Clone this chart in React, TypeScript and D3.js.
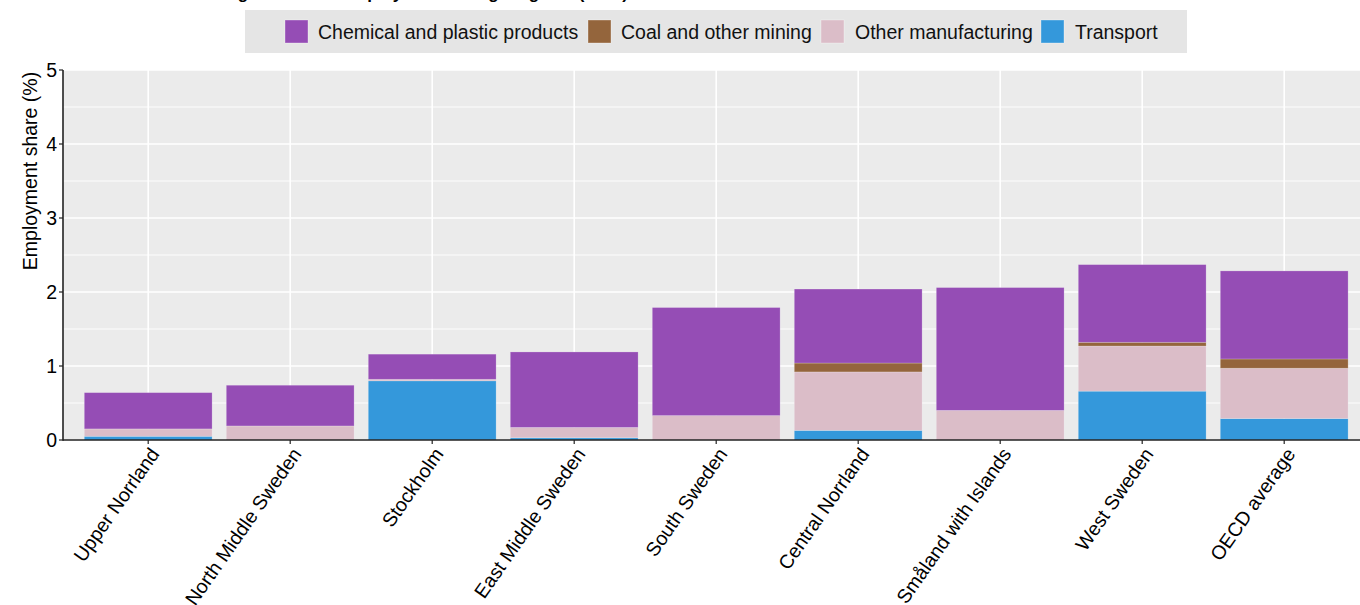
import React from "react";
import * as d3 from "d3";

const regions = [
  "Upper Norrland",
  "North Middle Sweden",
  "Stockholm",
  "East Middle Sweden",
  "South Sweden",
  "Central Norrland",
  "Småland with Islands",
  "West Sweden",
  "OECD average",
];
const transport = [0.05, 0.0, 0.8, 0.03, 0.0, 0.13, 0.0, 0.66, 0.29];
const otherManufacturing = [0.1, 0.19, 0.02, 0.14, 0.33, 0.79, 0.4, 0.61, 0.68];
const coalMining = [0.0, 0.0, 0.0, 0.0, 0.0, 0.12, 0.0, 0.05, 0.125];
const chemicalPlastic = [0.49, 0.55, 0.34, 1.02, 1.46, 1.0, 1.66, 1.05, 1.19];
const yTicks = [0, 1, 2, 3, 4, 5];

const seriesNames = ["Transport", "Other manufacturing", "Coal and other mining", "Chemical and plastic products"];
const seriesValues = [transport, otherManufacturing, coalMining, chemicalPlastic];
const seriesColors = ["#3498db", "#dbbdc8", "#94653c", "#954db5"];

const FONT = "'Liberation Sans', Arial, sans-serif";

export default function App() {
  const W = 1360, H = 605;
  const panelLeft = 63, panelTop = 70, panelBottom = 440;
  const step = 142;
  const panelRight = panelLeft + step * 9.2;

  const y = d3.scaleLinear().domain([0, 5]).range([panelBottom, panelTop]);
  const x = d3
    .scaleBand<string>()
    .domain(regions)
    .range([panelLeft + 0.1 * step, panelRight - 0.1 * step])
    .paddingInner(0.1)
    .paddingOuter(0.05);
  const cx = (r: string) => (x(r) as number) + x.bandwidth() / 2;
  const barW = x.bandwidth();

  const rows = regions.map((r, i) => {
    const o: any = { region: r };
    seriesNames.forEach((s, k) => (o[s] = seriesValues[k][i]));
    return o;
  });
  const stacked = d3.stack<any>().keys(seriesNames)(rows);

  const minor = d3.range(0.5, 5, 1);

  const legItems = [
    { k: 3, sx: 285, tx: 318 },
    { k: 2, sx: 588, tx: 621 },
    { k: 1, sx: 821, tx: 855 },
    { k: 0, sx: 1041, tx: 1075 },
  ];

  return (
    <svg width={W} height={H} style={{ position: "absolute", left: 0, top: 0, fontFamily: FONT }}>
      <rect x={0} y={0} width={W} height={H} fill="#ffffff" />
      <text x={150} y={-1} fontSize={17} fontWeight="bold" fill="#000">
        Share of high-emission employment in large regions (2019)
      </text>
      {/* legend */}
      <rect x={245} y={10} width={942} height={43} fill="#e5e5e5" />
      {legItems.map((it) => (
        <g key={it.k}>
          <rect x={it.sx} y={20} width={23} height={23} fill={seriesColors[it.k]} stroke="#ffffff" strokeOpacity={0.4} strokeWidth={0.8} />
          <text x={it.tx} y={39} fontSize={19.5} fill="#111">{seriesNames[it.k]}</text>
        </g>
      ))}
      {/* panel */}
      <clipPath id="pc"><rect x={panelLeft} y={panelTop} width={panelRight - panelLeft} height={panelBottom - panelTop} /></clipPath>
      <rect x={panelLeft} y={panelTop} width={panelRight - panelLeft} height={panelBottom - panelTop} fill="#ebebeb" />
      <g clipPath="url(#pc)">
        {minor.map((v) => (
          <line key={"m" + v} x1={panelLeft} x2={panelRight} y1={y(v)} y2={y(v)} stroke="#ffffff" strokeWidth={0.9} />
        ))}
        {yTicks.map((v) => (
          <line key={"M" + v} x1={panelLeft} x2={panelRight} y1={y(v)} y2={y(v)} stroke="#ffffff" strokeWidth={1.6} />
        ))}
        {regions.map((r) => (
          <line key={"v" + r} x1={cx(r)} x2={cx(r)} y1={panelTop} y2={panelBottom} stroke="#ffffff" strokeWidth={1.6} />
        ))}
        {stacked.map((layer, k) =>
          layer.map((d, i) => {
            const h = y(d[0]) - y(d[1]);
            if (h <= 0) return null;
            return (
              <rect
                key={k + "-" + i}
                x={cx(regions[i]) - barW / 2}
                y={y(d[1])}
                width={barW}
                height={h}
                fill={seriesColors[k]}
                stroke="#ffffff"
                strokeOpacity={0.25}
                strokeWidth={0.8}
              />
            );
          })
        )}
      </g>
      {/* axes */}
      <line x1={panelLeft} x2={panelLeft} y1={panelTop} y2={panelBottom + 0.8} stroke="#222" strokeWidth={1.6} />
      <line x1={panelLeft} x2={panelRight} y1={panelBottom} y2={panelBottom} stroke="#222" strokeWidth={1.6} />
      {yTicks.map((v) => (
        <g key={"t" + v}>
          <line x1={panelLeft - 4} x2={panelLeft} y1={y(v)} y2={y(v)} stroke="#222" strokeWidth={1.2} />
          <text x={panelLeft - 6} y={y(v)} dy="0.36em" textAnchor="end" fontSize={19.5} fill="#000">{v}</text>
        </g>
      ))}
      {regions.map((r) => (
        <g key={"xt" + r}>
          <line x1={cx(r)} x2={cx(r)} y1={panelBottom} y2={panelBottom + 4} stroke="#222" strokeWidth={1.2} />
          <text
            transform={`translate(${cx(r) + 12},${panelBottom + 14}) rotate(-55)`}
            textAnchor="end"
            fontSize={19.5}
            fill="#000"
          >
            {r}
          </text>
        </g>
      ))}
      <text transform={`translate(37,171) rotate(-90)`} textAnchor="middle" fontSize={19.5} fill="#000">
        Employment share (%)
      </text>
    </svg>
  );
}
